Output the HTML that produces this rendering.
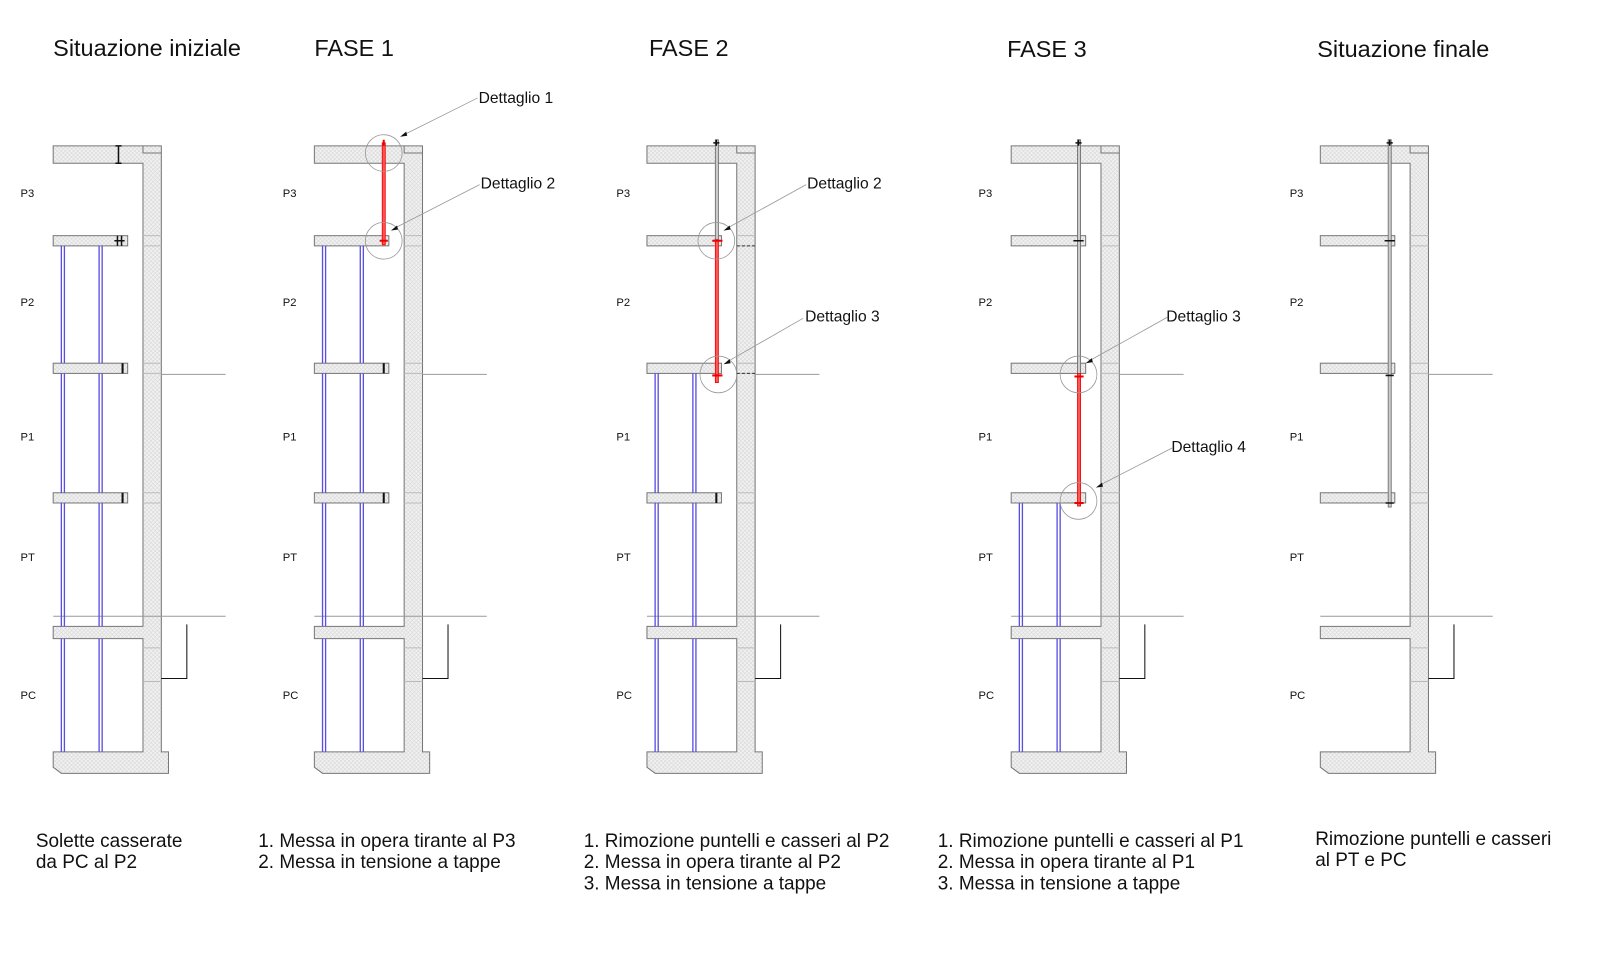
<!DOCTYPE html>
<html><head><meta charset="utf-8"><style>
html,body{margin:0;padding:0;background:#fff;}
svg{display:block;}
text{font-family:"Liberation Sans",Arial,sans-serif;fill:#111;}
</style></head><body>
<svg width="1600" height="958" viewBox="0 0 1568 939" xmlns="http://www.w3.org/2000/svg">
<defs>
<pattern id="h" width="4" height="4" patternUnits="userSpaceOnUse">
<rect width="4" height="4" fill="#f2f2f2"/><path d="M0,0L4,4M4,0L0,4" stroke="#d8d8d8" stroke-width="0.6"/>
</pattern>
<g id="s" stroke="#777" stroke-width="1" fill="url(#h)">
<path d="M52,143H158V737H165V748V758H60L52,752V737H140V626H52V614H140V160H52Z"/>
<path d="M140,143v7h18" fill="none"/>
<rect x="52" y="231" width="73" height="10"/>
<rect x="52" y="356" width="73" height="10"/>
<rect x="52" y="483" width="73" height="10"/>
<path d="M140,241h18M140,366h18M140,493h18M140,635h18M140,668h18M140,231h18M140,356h18M140,483h18" stroke="#bbb" fill="none"/>
<path d="M158,367H221M52,604H221" stroke="#999" fill="none"/>
<path d="M183,612V665H158" stroke="#111" fill="none"/>
</g>
<g id="pa" stroke="#5a4fe0" stroke-width="1.3" fill="none">
<path d="M60,626V737M63,626V737M97,626V737M100,626V737"/>
</g>
<g id="pb" stroke="#5a4fe0" stroke-width="1.3" fill="none">
<path d="M60,493V614M63,493V614M97,493V614M100,493V614"/>
</g>
<g id="pc" stroke="#5a4fe0" stroke-width="1.3" fill="none">
<path d="M60,366V483M63,366V483M97,366V483M100,366V483"/>
</g>
<g id="pd" stroke="#5a4fe0" stroke-width="1.3" fill="none">
<path d="M60,241V356M63,241V356M97,241V356M100,241V356"/>
</g>
</defs>

<g font-size="23">
<text x="52" y="55">Situazione iniziale</text>
<text x="308" y="55">FASE 1</text>
<text x="636" y="55">FASE 2</text>
<text x="987" y="56">FASE 3</text>
<text x="1291" y="56">Situazione finale</text>
</g>

<g>
<use href="#s"/><use href="#pa"/><use href="#pb"/><use href="#pc"/><use href="#pd"/>
<path d="M116,143V160M113,143h6M113,160h6" stroke="#111" stroke-width="1.5"/>
<path d="M115,231V241M119,231V241M112,236h10" stroke="#111" stroke-width="1.5"/>
<path d="M120,356V366M120,483V493" stroke="#111" stroke-width="2"/>
</g>
<g transform="translate(256,0)">
<use href="#s"/><use href="#pa"/><use href="#pb"/><use href="#pc"/><use href="#pd"/>
<rect x="118.5" y="140" width="3" height="100" fill="#f55" stroke="#e00" stroke-width="0.8"/>
<path d="M116,236h8M120,137v6" stroke="#e00" stroke-width="2"/>
<circle cx="120" cy="150" r="18" fill="none" stroke="#999" stroke-width="0.8"/>
<circle cx="120" cy="236" r="18" fill="none" stroke="#999" stroke-width="0.8"/>
<path d="M140,132L212,96M130,224L214,181" stroke="#999" stroke-width="0.8"/>
<path d="M136,134l6,-5l1,4zM127,226l6,-5l1,4z" fill="#111"/>
<path d="M120,356V366M120,483V493" stroke="#111" stroke-width="2"/>
</g>
<g transform="translate(582,0)">
<use href="#s"/><use href="#pa"/><use href="#pb"/><use href="#pc"/>
<rect x="119" y="137" width="3" height="98" fill="#ccc" stroke="#666" stroke-width="0.8"/>
<rect x="119" y="235" width="3" height="140" fill="#f55" stroke="#e00" stroke-width="0.8"/>
<path d="M116,236h10M116,368h10" stroke="#e00" stroke-width="2"/>
<path d="M120,137v6M117,140h6" stroke="#111" stroke-width="1.5"/>
<circle cx="120" cy="236" r="18" fill="none" stroke="#999" stroke-width="0.8"/>
<circle cx="122" cy="367" r="18" fill="none" stroke="#999" stroke-width="0.8"/>
<path d="M130,224L208,181M130,355L205,312" stroke="#999" stroke-width="0.8"/>
<path d="M127,226l6,-5l1,4zM127,357l6,-5l1,4z" fill="#111"/>
<path d="M140,241h18M140,366h18" stroke="#333" stroke-dasharray="3,2"/>
<path d="M120,483V493" stroke="#111" stroke-width="2"/>
</g>
<g transform="translate(939,0)">
<use href="#s"/><use href="#pa"/><use href="#pb"/>
<rect x="117" y="137" width="3" height="229" fill="#ccc" stroke="#666" stroke-width="0.8"/>
<rect x="117" y="366" width="3" height="130" fill="#f55" stroke="#e00" stroke-width="0.8"/>
<path d="M114,369h9M114,493h9" stroke="#e00" stroke-width="2"/>
<path d="M118,137v6M115,140h6M113,236h10" stroke="#111" stroke-width="1.5"/>
<circle cx="118" cy="367" r="18" fill="none" stroke="#999" stroke-width="0.8"/>
<circle cx="118" cy="491" r="18" fill="none" stroke="#999" stroke-width="0.8"/>
<path d="M128,354L205,311M138,476L210,439" stroke="#999" stroke-width="0.8"/>
<path d="M125,356l6,-5l1,4zM135,478l6,-5l1,4z" fill="#111"/>
</g>
<g transform="translate(1242,0)">
<use href="#s"/>
<rect x="118.5" y="137" width="3" height="360" fill="#ccc" stroke="#666" stroke-width="0.8"/>
<path d="M120,137v6M117,140h6M115,236h10M116,368h8M116,493h8" stroke="#111" stroke-width="1.5"/>
</g>

<g font-size="11">
<text x="20" y="193">P3</text><text x="20" y="300">P2</text><text x="20" y="432">P1</text><text x="20" y="550">PT</text><text x="20" y="685">PC</text>
<text x="277" y="193">P3</text><text x="277" y="300">P2</text><text x="277" y="432">P1</text><text x="277" y="550">PT</text><text x="277" y="685">PC</text>
<text x="604" y="193">P3</text><text x="604" y="300">P2</text><text x="604" y="432">P1</text><text x="604" y="550">PT</text><text x="604" y="685">PC</text>
<text x="959" y="193">P3</text><text x="959" y="300">P2</text><text x="959" y="432">P1</text><text x="959" y="550">PT</text><text x="959" y="685">PC</text>
<text x="1264" y="193">P3</text><text x="1264" y="300">P2</text><text x="1264" y="432">P1</text><text x="1264" y="550">PT</text><text x="1264" y="685">PC</text>
</g>
<g font-size="15.3">
<text x="469" y="101">Dettaglio 1</text>
<text x="471" y="185">Dettaglio 2</text>
<text x="791" y="185">Dettaglio 2</text>
<text x="789" y="315">Dettaglio 3</text>
<text x="1143" y="315">Dettaglio 3</text>
<text x="1148" y="443">Dettaglio 4</text>
</g>
<g font-size="18.6">
<text x="35" y="830">Solette casserate</text><text x="35" y="851">da PC al P2</text>
<text x="253" y="830">1. Messa in opera tirante al P3</text><text x="253" y="851">2. Messa in tensione a tappe</text>
<text x="572" y="830">1. Rimozione puntelli e casseri al P2</text><text x="572" y="851">2. Messa in opera tirante al P2</text><text x="572" y="872">3. Messa in tensione a tappe</text>
<text x="919" y="830">1. Rimozione puntelli e casseri al P1</text><text x="919" y="851">2. Messa in opera tirante al P1</text><text x="919" y="872">3. Messa in tensione a tappe</text>
<text x="1289" y="828">Rimozione puntelli e casseri</text><text x="1289" y="849">al PT e PC</text>
</g>
</svg>
</body></html>
